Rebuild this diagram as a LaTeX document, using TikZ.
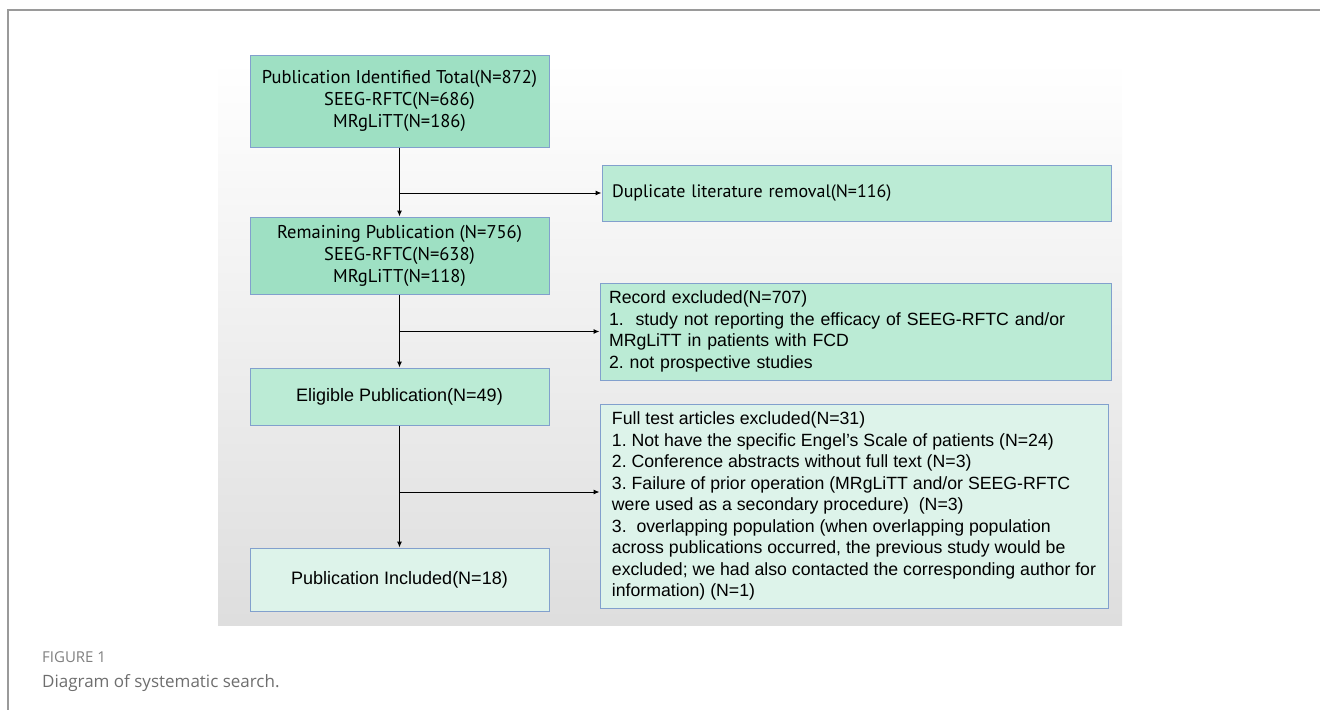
\documentclass[tikz,border=0pt]{standalone}
\usepackage{fontspec}
\setmainfont{Liberation Sans}
\newfontfamily\boxfont{PT Sans}
\newfontfamily\capfont{Open Sans}
\usepackage{xcolor}
\usepackage{tikz}
\usetikzlibrary{positioning,arrows.meta}
\frenchspacing

\definecolor{mintdark}{HTML}{9EE0C3}
\definecolor{mintmid}{HTML}{BBEBD5}
\definecolor{mintpale}{HTML}{DDF3EA}
\definecolor{boxline}{HTML}{82A0CD}
\definecolor{framegray}{HTML}{9A9A9A}
\definecolor{capgray}{HTML}{808080}
\definecolor{captext}{HTML}{6E6E6E}

\begin{document}
\begin{tikzpicture}[x=1pt, y=-1pt,
        block/.style={rectangle, draw=boxline, line width=1pt, minimum width=299pt, align=center, inner sep=0pt, font=\fontsize{18}{22}\selectfont},
        stage/.style={block, fill=mintdark, font=\boxfont\fontsize{18.5}{22}\selectfont},
        note/.style={rectangle, draw=boxline, line width=1pt, align=left, inner xsep=9pt, inner ysep=0pt, font=\fontsize{17.7}{21.5}\selectfont},
        arrow/.style={-{Latex[length=6pt,width=5pt]}, line width=1pt}
    ]
        \useasboundingbox (0,0) rectangle (1320,710);

        % Backdrop and frame
        \shade[top color=white, bottom color=black!13] (218,60) rectangle (1122,625);
        \draw[framegray, line width=1.5pt] (1320,10) -- (8,10) -- (8,710);

        % Blocks
        \node[stage, minimum height=92pt] (total) at (399.5,101) {Publication Identified Total(N=872)\\SEEG-RFTC(N=686)\\MRgLiTT(N=186)};
        \node[stage, minimum height=77pt, below=69pt of total] (remain) {Remaining Publication (N=756)\\SEEG-RFTC(N=638)\\MRgLiTT(N=118)};
        \node[block, fill=mintmid, minimum height=57pt, below=73pt of remain] (eligible) {Eligible Publication(N=49)};
        \node[block, fill=mintpale, minimum height=63pt, below=122pt of eligible] (included) {Publication Included(N=18)};

        \node[note, fill=mintmid, font=\boxfont\fontsize{18}{22}\selectfont, text width=489pt, inner xsep=10pt, minimum height=56pt] (duplicate) at (856.5,193) {Duplicate literature removal(N=116)};
        \node[note, fill=mintmid, text width=493pt, minimum height=97pt] (record) at (855.5,331.5) {Record excluded(N=707)\\1.\ \ study not reporting the efficacy of SEEG-RFTC and/or\\MRgLiTT in patients with FCD\\2. not prospective studies};
        \node[note, fill=mintpale, minimum width=508pt, minimum height=204pt, inner xsep=0pt] (fulltext) at (854,506) {Full test articles excluded(N=31)\\1. Not have the specific Engel's Scale of patients (N=24)\\2. Conference abstracts without full text (N=3)\\3. Failure of prior operation (MRgLiTT and/or SEEG-RFTC\\were used as a secondary procedure)\ \ (N=3)\\3.\ \ overlapping population (when overlapping population\\across publications occurred, the previous study would be\\excluded; we had also contacted the corresponding author for\\information) (N=1)};

        \coordinate (fullsplit) at (399.5,492);

        % Arrows
        \draw[arrow] (total) -- (remain);
        \draw[arrow] (total.south |- duplicate.west) -- (duplicate.west);
        \draw[arrow] (remain) -- (eligible);
        \draw[arrow] (remain.south |- record.west) -- (record.west);
        \draw[arrow] (eligible) -- (included);
        \draw[arrow] (fullsplit) -- (fullsplit -| fulltext.west);

        % Caption
        \node[anchor=base west, inner sep=0pt, text=capgray, font=\capfont\fontsize{15}{17}\selectfont] (figlabel) at (42,662) {FIGURE 1};
        \node[anchor=base west, inner sep=0pt, text=captext, font=\capfont\fontsize{17}{20}\selectfont] (caption) at (42,687) {Diagram of systematic search.};

    \end{tikzpicture}
\end{document}
